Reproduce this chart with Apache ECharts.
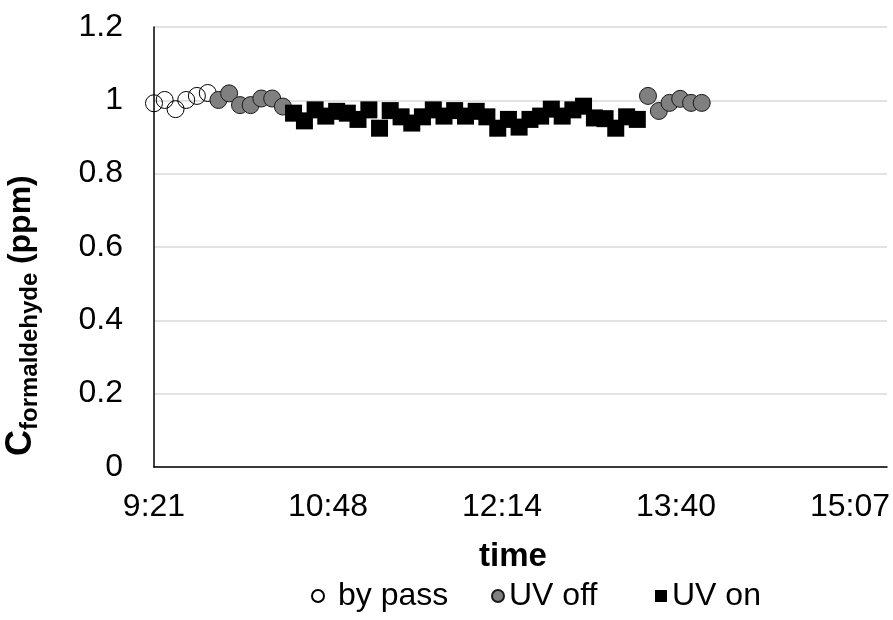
<!DOCTYPE html>
<html>
<head>
<meta charset="utf-8">
<script src="https://cdn.jsdelivr.net/npm/echarts@6/dist/echarts.min.js"></script>
<style>
  html, body { margin: 0; padding: 0; background: #fff; }
  #chart { width: 893px; height: 620px; }
</style>
</head>
<body>
<div id="chart"></div>
<script>
// time of each sample in minutes after midnight, concentration in ppm
const timeBypass = [561.6, 566.9, 572.3, 577.6, 582.9, 588.3];
const cBypass = [0.992, 1.001, 0.976, 1.001, 1.012, 1.020];

const timeUvOff = [593.6, 598.9, 604.3, 609.6, 614.9, 620.3, 625.6,
                   806.9, 812.3, 817.6, 822.9, 828.3, 833.6];
const cUvOff = [1.001, 1.019, 0.987, 0.987, 1.005, 1.005, 0.983,
                1.012, 0.971, 0.993, 1.004, 0.993, 0.993];

const timeUvOn = [630.9, 636.3, 641.6, 646.9, 652.3, 657.6, 662.9, 668.3, 673.6, 678.9,
                  684.3, 689.6, 694.9, 700.3, 705.6, 710.9, 716.3, 721.6, 726.9, 732.3,
                  737.6, 742.9, 748.3, 753.6, 758.9, 764.3, 769.6, 774.9, 780.3, 785.6,
                  790.9, 796.3, 801.6];
const cUvOn = [0.965, 0.944, 0.974, 0.957, 0.970, 0.965, 0.948, 0.974, 0.924, 0.972,
               0.955, 0.938, 0.955, 0.974, 0.957, 0.972, 0.957, 0.970, 0.955, 0.924,
               0.948, 0.927, 0.948, 0.957, 0.976, 0.957, 0.974, 0.984, 0.952, 0.950,
               0.924, 0.955, 0.948];

// x axis starts at 9:21:36 (Excel 0.39 day), ticks every 86.4 min (0.06 day)
const T0 = 561.6;
const xStep = 86.4;
const xEnd = 364;
const yTicks = [0, 0.2, 0.4, 0.6, 0.8, 1, 1.2];

const FONT = '"Liberation Sans", Arial, sans-serif';

function pairs(ts, vs) {
  return ts.map((t, i) => [t - T0, vs[i]]);
}

function fmtTime(v) {
  const m = Math.floor(T0 + v + 1e-6);
  const h = Math.floor(m / 60);
  const mm = m % 60;
  return h + ':' + (mm < 10 ? '0' : '') + mm;
}

function legendAt(name, left, extra) {
  return {
    data: [name], left: left, top: 580, padding: 0,
    itemWidth: 12, itemHeight: 12,
    textStyle: Object.assign({ fontSize: 32, color: '#000', fontFamily: FONT }, extra || {})
  };
}

const chart = echarts.init(document.getElementById('chart'));

const option = {
  animation: false,
  backgroundColor: '#fff',
  textStyle: { fontFamily: FONT },
  grid: { left: 154, right: 0, top: 27, bottom: 153 },
  xAxis: {
    type: 'value',
    min: 0,
    max: xEnd,
    interval: xStep,
    axisLine: { show: true, lineStyle: { color: '#000', width: 1.5 } },
    axisTick: { show: false },
    splitLine: { show: false },
    axisLabel: {
      showMaxLabel: false,
      margin: 24,
      fontSize: 32,
      color: '#000',
      fontFamily: FONT,
      formatter: fmtTime
    }
  },
  yAxis: {
    type: 'value',
    min: yTicks[0],
    max: yTicks[yTicks.length - 1],
    interval: 0.2,
    axisLine: { show: true, lineStyle: { color: '#000', width: 1.5 } },
    axisTick: { show: false },
    splitLine: { show: true, lineStyle: { color: '#d9d9d9', width: 1.5 } },
    axisLabel: { margin: 31, fontSize: 32, color: '#000', fontFamily: FONT }
  },
  legend: [
    legendAt('by pass', 311, { padding: [0, 0, 0, 9] }),
    legendAt('UV off', 491),
    legendAt('UV on', 655)
  ],
  graphic: [
    {
      type: 'text', x: 513, y: 557,
      style: { text: 'time', font: 'bold 33px ' + FONT, fill: '#000', align: 'center', verticalAlign: 'middle' }
    },
    {
      type: 'group', x: 21, y: 456, rotation: Math.PI / 2,
      children: [
        { type: 'text', x: 0, y: 0,
          style: { text: 'C', font: 'bold 36px ' + FONT, fill: '#000', align: 'left', verticalAlign: 'middle' } },
        { type: 'text', x: 26, y: 9,
          style: { text: 'formaldehyde', font: 'bold 24px ' + FONT, fill: '#000', align: 'left', verticalAlign: 'middle' } },
        { type: 'text', x: 183, y: 0,
          style: { text: ' (ppm)', font: 'bold 32px ' + FONT, fill: '#000', align: 'left', verticalAlign: 'middle' } }
      ]
    }
  ],
  series: [
    {
      name: 'by pass',
      type: 'scatter',
      symbol: 'circle',
      symbolSize: 17,
      itemStyle: { color: 'rgba(255,255,255,0)', borderColor: '#000', borderWidth: 1, opacity: 1 },
      data: pairs(timeBypass, cBypass)
    },
    {
      name: 'UV off',
      type: 'scatter',
      symbol: 'circle',
      symbolSize: 17,
      itemStyle: { color: '#808080', borderColor: '#1a1a1a', borderWidth: 1, opacity: 1 },
      data: pairs(timeUvOff, cUvOff)
    },
    {
      name: 'UV on',
      type: 'scatter',
      symbol: 'rect',
      symbolSize: 17,
      itemStyle: { color: '#000', opacity: 1 },
      data: pairs(timeUvOn, cUvOn)
    }
  ]
};

chart.setOption(option);
</script>
</body>
</html>
